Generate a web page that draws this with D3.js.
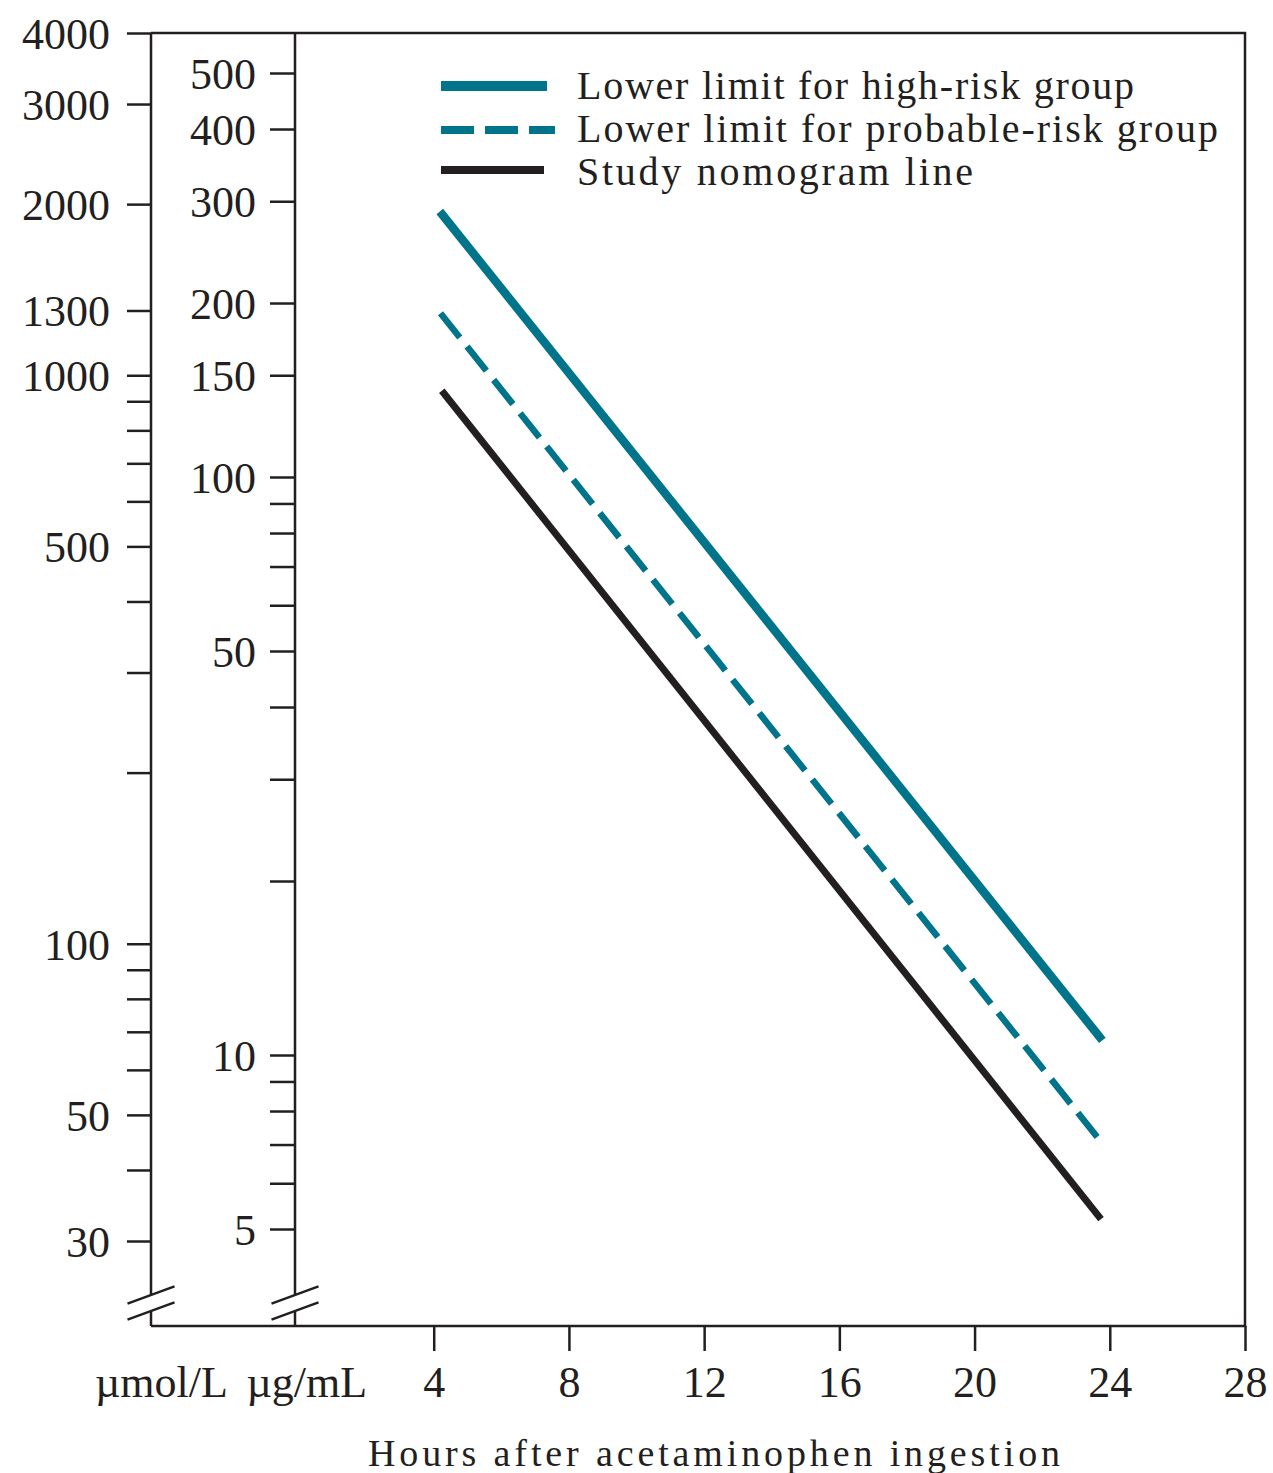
<!DOCTYPE html>
<html>
<head>
<meta charset="utf-8">
<script src="https://cdn.jsdelivr.net/npm/d3@7"></script>
<style>
    html, body { margin: 0; padding: 0; background: #fff; }
    svg { display: block; }
</style>
</head>
<body>
<script>

    // hours after ingestion, concentration in ug/mL
    var highRisk = [[4.18, 288], [23.78, 10.6]];
    var probableRisk = [[4.2, 192], [23.64, 7.2]];
    var studyLine = [[4.24, 141], [23.74, 5.2]];

    var seriesNames = [
        'Lower limit for high-risk group',
        'Lower limit for probable-risk group',
        'Study nomogram line'
    ];

    var hourTicks = [4, 8, 12, 16, 20, 24, 28];
    var ugTicks = [5, 6, 7, 8, 9, 10, 20, 30, 40, 50, 60, 70, 80, 90, 100, 150, 200, 300, 400, 500];
    var ugLabels = [5, 10, 50, 100, 150, 200, 300, 400, 500];
    var molTicks = [30, 40, 50, 60, 70, 80, 90, 100, 200, 300, 400, 500, 600, 700, 800, 900, 1000, 1300, 2000, 3000, 4000];
    var molLabels = [30, 50, 100, 500, 1000, 1300, 2000, 3000, 4000];

    var ink = '#231f20';
    var teal = '#00748a';
    var serif = '"Liberation Serif", "Times New Roman", serif';

    // drawing styles, one per series
    var styles = [
        { color: teal, width: 8.5, dash: null, legendWidth: 10, legendEnd: 547, labelLength: 557 },
        { color: teal, width: 6.5, dash: '31,11.6', legendWidth: 8, legendEnd: 555, labelLength: 641 },
        { color: ink, width: 7, dash: null, legendWidth: 8, legendEnd: 544, labelLength: 396 }
    ];

    var yTop = 33, yBottom = 1326;
    var molX = 151, ugX = 295, xRight = 1245;

    var svg = d3.select('body')
        .append('svg')
        .attr('width', 1273)
        .attr('height', 1473)
    ;

    var x = d3.scaleLinear().domain([0, 28]).range([298.5, xRight]);
    var yUg = d3.scaleLog().domain([5, 500]).range([1229, 73]);
    var yMol = d3.scaleLog().domain([30, 4000]).range([1241, yTop]);

    // frame
    var frame = svg.append('g')
        .attr('stroke', ink)
        .attr('stroke-width', 2.5)
        .attr('fill', 'none')
    ;
    frame.append('path')
        .attr('d', 'M' + molX + ',' + yTop + 'H' + xRight + 'V' + yBottom + 'H' + molX);

    // vertical axes with break marks near the bottom
    [molX, ugX].forEach(function (ax) {
        frame.append('line').attr('x1', ax).attr('x2', ax).attr('y1', yTop).attr('y2', 1295);
        frame.append('line').attr('x1', ax).attr('x2', ax).attr('y1', 1311).attr('y2', yBottom);
        [1295, 1311].forEach(function (cy) {
            frame.append('line')
                .attr('x1', ax - 23.5).attr('y1', cy + 8.7)
                .attr('x2', ax + 23.5).attr('y2', cy - 8.7);
        });
    });

    function styleAxis(g, size) {
        g.select('.domain').remove();
        g.attr('font-family', serif).attr('font-size', size).attr('color', ink);
        g.selectAll('.tick line').attr('stroke-width', 2.5);
        g.selectAll('.tick text').attr('fill', ink);
    }

    var molAxis = d3.axisLeft(yMol)
        .tickValues(molTicks)
        .tickSize(24)
        .tickPadding(17)
        .tickFormat(function (d) { return molLabels.indexOf(d) >= 0 ? d : ''; });
    var gMol = svg.append('g').attr('transform', 'translate(' + molX + ',0)').call(molAxis);
    styleAxis(gMol, 44);
    gMol.selectAll('.tick text').attr('dy', '0.35em');

    var ugAxis = d3.axisLeft(yUg)
        .tickValues(ugTicks)
        .tickSize(25)
        .tickPadding(14)
        .tickFormat(function (d) { return ugLabels.indexOf(d) >= 0 ? d : ''; });
    var gUg = svg.append('g').attr('transform', 'translate(' + ugX + ',0)').call(ugAxis);
    styleAxis(gUg, 44);
    gUg.selectAll('.tick text').attr('dy', '0.35em');

    var xAxis = d3.axisBottom(x)
        .tickValues(hourTicks)
        .tickSize(25)
        .tickPadding(15)
        .tickSizeOuter(0);
    var gX = svg.append('g').attr('transform', 'translate(0,' + yBottom + ')').call(xAxis);
    styleAxis(gX, 44);

    // unit labels under the two concentration axes
    svg.append('text')
        .attr('x', 95).attr('y', 1397)
        .attr('font-family', serif).attr('font-size', 44).attr('fill', ink)
        .text('\u00b5mol/L');
    svg.append('text')
        .attr('x', 246.5).attr('y', 1397)
        .attr('font-family', serif).attr('font-size', 44).attr('fill', ink)
        .text('\u00b5g/mL');

    svg.append('text')
        .attr('x', 368).attr('y', 1466)
        .attr('font-family', serif).attr('font-size', 38).attr('fill', ink)
        .attr('textLength', 692).attr('lengthAdjust', 'spacing')
        .text('Hours after acetaminophen ingestion');

    // nomogram lines
    var lineFunction = d3.line()
        .x(function (d) { return x(d[0]); })
        .y(function (d) { return yUg(d[1]); });

    var series = [highRisk, probableRisk, studyLine];

    series.forEach(function (data, i) {
        svg.append('path')
            .attr('d', lineFunction(data))
            .attr('fill', 'none')
            .attr('stroke', styles[i].color)
            .attr('stroke-width', styles[i].width)
            .attr('stroke-dasharray', styles[i].dash)
        ;
    });

    // legend
    var legend = svg.append('g');
    var swatchY = [86, 130, 170];
    var labelY = [99, 142, 185];

    seriesNames.forEach(function (name, i) {
        legend.append('line')
            .attr('x1', 441).attr('x2', styles[i].legendEnd)
            .attr('y1', swatchY[i]).attr('y2', swatchY[i])
            .attr('stroke', styles[i].color)
            .attr('stroke-width', styles[i].legendWidth)
            .attr('stroke-dasharray', styles[i].dash ? '33,11' : null)
        ;
        legend.append('text')
            .attr('x', 577).attr('y', labelY[i])
            .attr('font-family', serif).attr('font-size', 40).attr('fill', ink)
            .attr('textLength', styles[i].labelLength).attr('lengthAdjust', 'spacing')
            .text(name)
        ;
    });

</script>
</body>
</html>
